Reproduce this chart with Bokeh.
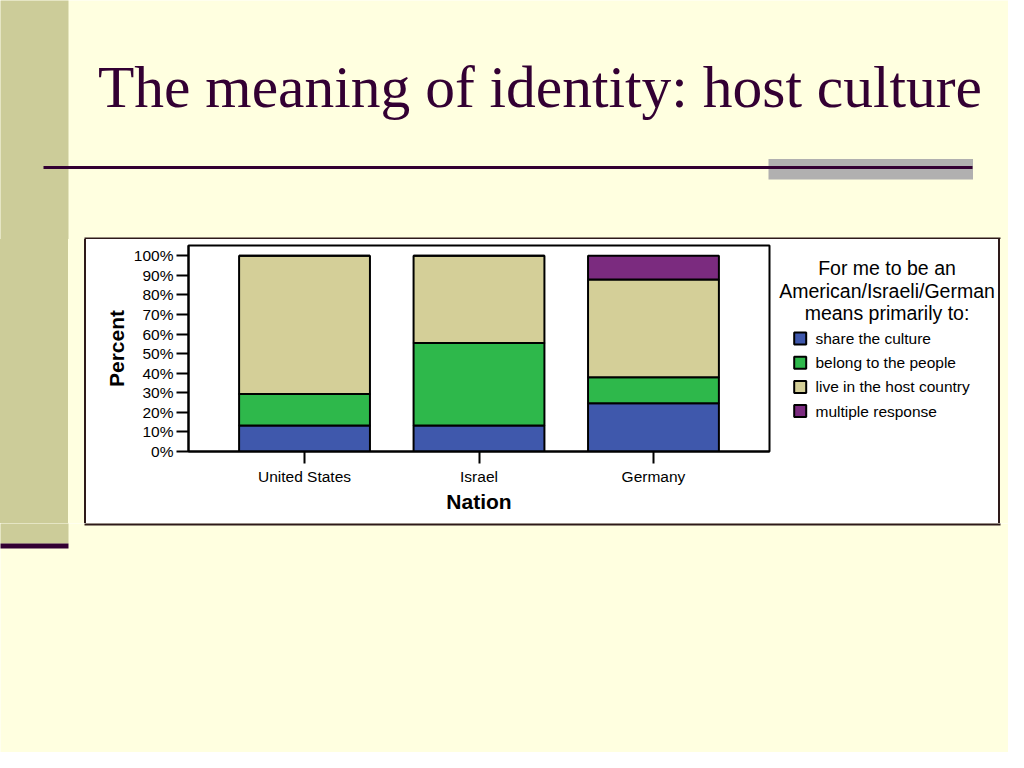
from bokeh.plotting import figure
from bokeh.layouts import column, row
from bokeh.models import ColumnDataSource, FactorRange, Range1d, FixedTicker, Div
from bokeh.core.properties import value
from bokeh.embed import file_html
from bokeh.resources import INLINE

# ---------------- data ----------------
NATIONS = ["United States", "Israel", "Germany"]
SHARE = [13.3, 13.3, 24.6]
BELONG = [16.1, 42.1, 13.3]
LIVE = [70.6, 44.6, 50.0]
MULTIPLE = [0.0, 0.0, 12.1]
SERIES = ["share the culture", "belong to the people",
          "live in the host country", "multiple response"]
Y_TICKS = [0, 10, 20, 30, 40, 50, 60, 70, 80, 90, 100]
Y_TICK_LABELS = ["0%", "10%", "20%", "30%", "40%", "50%",
                 "60%", "70%", "80%", "90%", "100%"]
TITLE = ["The meaning of identity: host culture"]
LEGEND_TITLE = ["For me to be an", "American/Israeli/German", "means primarily to:"]
X_LABEL = "Nation"
Y_LABEL = "Percent"

# ---------------- styles ----------------
COLORS = ["#3F58AC", "#2EB84B", "#D4CF98", "#7B2B7F"]
BG = "#FFFFE0"
KHAKI = "#CCCC99"
DARK = "#330033"
BORDER = "#2E1A1A"
GRAY = "#B1B0B0"
SANS = "Liberation Sans"
SERIF = "Liberation Serif"

W, H = 1008, 752
# chart box (page px) and plot frame (page px)
BX0, BX1, BY0, BY1 = 84, 1000, 237, 525
FX0, FX1, FY0, FY1 = 188, 769, 245, 451
CX1 = 772          # right edge of chart figure
YE = 100 * (FY1 - FY0) / (FY1 - 255.3)
RANGE_PAD = 0.11
MY0, MY1 = BY0 + 2, BY1 - 2


def deco(x0, x1, y0, y1, fill=BG):
    """A plain figure whose data units are page pixels."""
    f = figure(width=x1 - x0, height=y1 - y0, output_backend="svg",
               toolbar_location=None, x_axis_type=None, y_axis_type=None,
               x_range=Range1d(x0, x1), y_range=Range1d(y1, y0),
               min_border=0)
    f.min_border_left = f.min_border_right = 0
    f.min_border_top = f.min_border_bottom = 0
    f.grid.visible = False
    f.outline_line_color = None
    f.background_fill_color = fill
    f.border_fill_color = fill
    return f


def quad(f, l, r, t, b, color):
    f.quad(left=[l], right=[r], top=[t], bottom=[b], fill_color=color,
           line_color=None)


# ---- top band ----
top = deco(0, W, 0, MY0)
quad(top, -5, 68, -5, MY0 + 3, KHAKI)
quad(top, 768, 972.5, 158.5, 179, GRAY)
quad(top, 43, 972, 165.5, 168.5, DARK)
quad(top, BX0, BX1, BY0, MY0 + 1, BORDER)
top.text(x=[539.5], y=[86], text=TITLE, text_align="center",
         text_baseline="middle", text_font=value(SERIF),
         text_font_size="59.5px", text_color=DARK)

# ---- left strip (html block, khaki bar + box border) ----
left = Div(text="", width=BX0 + 2, height=MY1 - MY0,
           styles={"background": f"linear-gradient(to right, {KHAKI} 0px, {KHAKI} 68px, "
                                 f"{BG} 68px, {BG} {BX0}px, {BORDER} {BX0}px, {BORDER} {BX0 + 2}px)",
                   "margin": "0", "padding": "0"})

# ---- chart ----
p = figure(width=CX1 - (BX0 + 2), height=MY1 - MY0, output_backend="svg",
           toolbar_location=None,
           x_range=FactorRange(factors=NATIONS, range_padding=RANGE_PAD),
           y_range=Range1d(0, YE),
           min_border_left=FX0 - (BX0 + 2), min_border_right=CX1 - FX1,
           min_border_top=FY0 - MY0, min_border_bottom=MY1 - FY1)
p.background_fill_color = "white"
p.border_fill_color = "white"
p.outline_line_color = "black"
p.outline_line_width = 2
p.grid.visible = False

src = ColumnDataSource(dict(nation=NATIONS, share=SHARE, belong=BELONG,
                            live=LIVE, multiple=MULTIPLE))
p.vbar_stack(["share", "belong", "live", "multiple"], x="nation",
             width=0.75, color=COLORS, line_color="black", line_width=2,
             source=src)

ya = p.yaxis[0]
ya.ticker = FixedTicker(ticks=Y_TICKS)
ya.major_label_overrides = {t: lab for t, lab in zip(Y_TICKS, Y_TICK_LABELS)}
ya.minor_tick_line_color = None
xa = p.xaxis[0]
for ax in (xa, ya):
    ax.major_tick_out = 12
    ax.major_tick_in = 0
    ax.major_tick_line_color = "black"
    ax.major_tick_line_width = 2
    ax.axis_line_color = "black"
    ax.axis_line_width = 2
    ax.major_label_text_font = SANS
    ax.major_label_text_font_size = "15.5px"
    ax.major_label_text_color = "black"
    ax.axis_label_text_font = SANS
    ax.axis_label_text_font_size = "21px"
    ax.axis_label_text_font_style = "bold"
    ax.axis_label_text_color = "black"
ya.major_label_standoff = 3
ya.axis_label_standoff = 3
xa.major_label_standoff = 4
xa.axis_label_standoff = 2
xa.axis_label = X_LABEL
ya.axis_label = Y_LABEL

# ---- legend panel (inside chart box, right); same borders as chart ----
g = figure(width=BX1 - 2 - CX1, height=MY1 - MY0, output_backend="svg",
           toolbar_location=None, x_axis_type=None, y_axis_type=None,
           x_range=Range1d(CX1, BX1 - 2), y_range=Range1d(FY1, FY0),
           min_border_left=0, min_border_right=0,
           min_border_top=FY0 - MY0, min_border_bottom=MY1 - FY1)
g.grid.visible = False
g.outline_line_color = None
g.background_fill_color = "white"
g.border_fill_color = "white"
g.text(x=[886.5] * len(LEGEND_TITLE),
       y=[267.8 + 22.4 * i for i in range(len(LEGEND_TITLE))],
       text=LEGEND_TITLE, text_align="center", text_baseline="middle",
       text_font=value(SANS), text_font_size="19.5px", text_color="black")
ly = [338 + 24.2 * i for i in range(len(SERIES))]
g.rect(x=[799.7] * len(SERIES), y=ly, width=12, height=12,
       fill_color=COLORS, line_color="black", line_width=2)
g.text(x=[815] * len(SERIES), y=ly, text=SERIES, text_align="left",
       text_baseline="middle", text_font=value(SANS),
       text_font_size="15.5px", text_color="black")

# ---- right strip (box border + background) ----
right = Div(text="", width=W - (BX1 - 2), height=MY1 - MY0,
            styles={"background": f"linear-gradient(to right, {BORDER} 0px, {BORDER} 2px, "
                                  f"{BG} 2px, {BG} 100%)",
                    "margin": "0", "padding": "0"})

# ---- bottom band ----
bot = deco(0, W, MY1, H)
quad(bot, -5, 68, MY1 - 1, 543, KHAKI)
quad(bot, -5, 68, 543, 548, DARK)
quad(bot, BX0, BX1, MY1 - 1, BY1, BORDER)

layout = column(top, row(left, p, g, right), bot)

open("out.html", "w").write(file_html(layout, INLINE))
